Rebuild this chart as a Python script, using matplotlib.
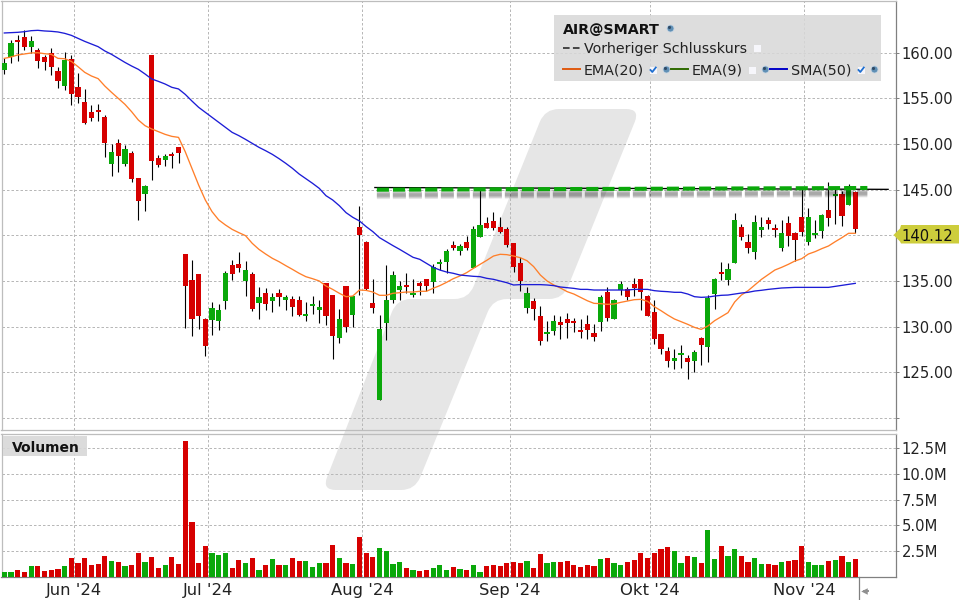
import matplotlib
matplotlib.use("Agg")
import matplotlib.pyplot as plt
from matplotlib.path import Path
from matplotlib.patches import PathPatch, Polygon, Rectangle

# candles
direction = list(
    "ggrrgrrrrg" "rrrrrrgrgr" "rgrrgrrrrr" "rgggrrgrgr" "grgrrgggrr"
    "grgrrrgggg" "rgrrgggrgr" "ggrrrrrrgr" "rggrrrrrrg" "rggrrrrrrr"
    "ggrgrggrgg" "rrggrrgrrr" "gggrgrgr"
)
body_top = [
    158.86, 161.05, 161.38, 161.71, 161.27, 160.29, 159.52, 159.96, 157.99, 159.19,
    159.30, 156.23, 154.59, 153.50, 153.72, 152.95, 149.12, 150.10, 149.45, 149.01,
    146.27, 145.39, 159.74, 148.46, 148.68, 148.90, 149.67, 137.95, 135.11, 135.76,
    130.84, 132.04, 131.82, 135.87, 136.75, 136.86, 136.20, 135.76, 133.24, 133.68,
    133.24, 133.68, 133.24, 133.03, 132.92, 131.38, 132.48, 132.15, 134.78, 133.46,
    130.84, 134.45, 133.35, 140.91, 139.27, 132.59, 129.74, 132.92, 135.65, 134.45,
    134.56, 133.68, 134.78, 135.22, 136.53, 137.08, 138.28, 138.94, 138.83, 139.27,
    140.69, 141.13, 141.35, 141.57, 140.91, 140.69, 139.16, 136.97, 133.68, 132.81,
    131.16, 129.41, 130.62, 130.51, 130.84, 130.62, 129.63, 130.29, 129.30, 133.24,
    133.79, 132.92, 134.67, 134.12, 134.67, 135.22, 133.35, 131.60, 129.19, 127.33,
    126.57, 127.11, 126.57, 127.22, 128.76, 133.13, 135.22, 135.98, 136.31, 141.68,
    140.91, 139.27, 141.46, 140.91, 141.68, 140.80, 140.25, 141.35, 140.25, 142.00,
    142.00, 140.25, 142.22, 142.77, 144.52, 144.52, 145.40, 144.74,
]
body_bottom = [
    158.13, 159.56, 161.16, 160.61, 160.61, 159.08, 158.97, 158.43, 156.89, 156.34,
    155.47, 155.14, 152.29, 152.84, 153.50, 150.10, 147.80, 148.68, 147.80, 146.16,
    143.75, 144.52, 148.13, 147.69, 148.24, 148.68, 149.01, 134.45, 130.84, 131.16,
    127.88, 130.73, 130.62, 132.81, 135.76, 136.42, 135.00, 131.93, 132.59, 132.48,
    132.81, 133.24, 132.92, 132.15, 131.27, 131.16, 132.26, 131.82, 131.16, 128.97,
    128.76, 129.96, 131.27, 140.03, 134.12, 132.04, 121.97, 130.40, 132.92, 134.01,
    134.34, 133.46, 134.45, 134.45, 134.89, 136.86, 137.08, 138.61, 138.28, 138.61,
    136.42, 139.81, 140.80, 140.80, 140.36, 138.94, 136.53, 135.00, 132.04, 131.93,
    128.43, 129.19, 129.52, 130.18, 130.40, 130.40, 129.41, 129.63, 128.87, 130.51,
    130.95, 130.84, 134.01, 133.25, 134.23, 133.79, 131.16, 128.65, 127.55, 126.24,
    126.24, 126.89, 126.13, 126.24, 127.99, 127.77, 133.57, 135.76, 135.11, 136.97,
    139.81, 138.61, 138.17, 140.58, 141.24, 140.58, 138.61, 139.92, 139.49, 140.36,
    139.27, 140.03, 140.47, 141.90, 144.30, 142.11, 143.32, 140.69,
]
wick_high = [
    159.37, 161.38, 161.93, 162.47, 161.82, 160.50, 159.74, 160.50, 158.43, 160.07,
    159.74, 157.77, 156.02, 154.26, 154.37, 153.17, 150.00, 150.54, 149.88, 149.23,
    146.27, 145.50, 159.74, 148.79, 148.90, 149.12, 149.67, 137.95, 137.30, 135.76,
    130.95, 132.70, 132.48, 136.09, 137.30, 138.17, 137.19, 135.98, 134.34, 134.23,
    133.68, 134.12, 133.46, 133.35, 133.35, 132.70, 133.35, 132.92, 134.78, 133.46,
    131.93, 134.45, 133.35, 143.21, 139.38, 135.22, 131.27, 136.75, 136.09, 134.99,
    135.87, 135.22, 134.99, 135.22, 136.86, 137.41, 138.50, 139.38, 139.05, 139.92,
    141.02, 144.96, 142.00, 142.55, 142.00, 140.91, 139.16, 137.62, 134.34, 133.13,
    132.26, 130.62, 131.27, 131.16, 131.49, 130.95, 130.84, 131.27, 130.29, 133.46,
    134.34, 133.03, 135.00, 134.34, 135.32, 135.22, 133.46, 132.92, 129.19, 127.77,
    127.55, 127.99, 126.89, 127.44, 128.87, 133.46, 135.32, 137.08, 136.97, 142.44,
    141.24, 140.14, 142.22, 142.00, 142.00, 141.24, 141.68, 142.11, 140.36, 145.18,
    142.99, 141.68, 142.33, 145.84, 145.18, 144.85, 145.62, 144.85,
]
wick_low = [
    157.66, 158.86, 159.08, 160.29, 159.96, 158.30, 158.10, 157.55, 156.12, 155.90,
    154.26, 154.48, 152.18, 152.51, 152.51, 148.57, 146.49, 146.93, 147.58, 145.83,
    141.67, 142.66, 146.05, 147.47, 147.58, 147.37, 147.91, 129.85, 128.97, 129.74,
    126.78, 129.08, 129.63, 131.93, 135.11, 135.98, 133.35, 131.71, 130.84, 131.82,
    131.60, 132.26, 131.82, 131.16, 131.16, 130.62, 131.38, 130.40, 130.18, 126.46,
    128.21, 129.41, 129.96, 133.46, 134.01, 131.49, 121.97, 128.54, 132.59, 132.92,
    133.68, 133.24, 133.46, 133.90, 133.68, 136.20, 135.87, 138.39, 137.84, 138.39,
    136.42, 139.81, 140.80, 140.58, 140.25, 138.72, 135.98, 133.90, 131.49, 130.73,
    128.00, 128.43, 129.08, 128.65, 128.76, 129.41, 128.76, 128.65, 128.43, 129.52,
    130.62, 130.84, 133.46, 132.92, 133.35, 131.82, 131.16, 128.10, 127.00, 125.58,
    125.36, 125.47, 124.27, 125.03, 125.80, 126.13, 131.93, 135.11, 134.56, 136.97,
    139.49, 138.06, 137.40, 139.81, 140.69, 139.81, 138.28, 138.83, 137.19, 139.92,
    138.94, 139.70, 139.70, 141.02, 141.24, 141.02, 143.32, 140.25,
]
ema20 = [
    159.37, 159.52, 159.74, 159.85, 159.96, 159.99, 159.88, 159.81, 159.37, 159.33,
    159.04, 158.46, 157.84, 157.44, 157.15, 156.34, 155.65, 155.00, 154.34, 153.53,
    152.62, 152.00, 151.64, 151.34, 151.05, 150.83, 150.72, 149.15, 147.33, 145.50,
    143.86, 142.59, 141.68, 141.13, 140.65, 140.29, 139.96, 139.12, 138.46, 137.95,
    137.48, 137.11, 136.68, 136.27, 135.84, 135.47, 135.25, 135.00, 134.45, 134.08,
    133.65, 133.28, 133.35, 134.01, 133.97, 133.79, 133.43, 133.43, 133.65, 133.72,
    133.79, 133.79, 133.87, 133.87, 134.20, 134.49, 134.85, 135.25, 135.55, 135.91,
    136.38, 136.82, 137.26, 137.73, 137.92, 137.88, 137.73, 137.55, 137.22, 136.57,
    135.65, 135.00, 134.56, 134.23, 133.83, 133.57, 133.21, 132.84, 132.55, 132.52,
    132.44, 132.48, 132.66, 132.81, 132.95, 132.99, 132.77, 132.19, 131.75, 131.27,
    130.84, 130.54, 130.25, 129.92, 129.70, 130.07, 130.65, 131.09, 131.53, 132.70,
    133.46, 133.94, 134.56, 135.18, 135.69, 136.20, 136.49, 136.82, 137.19, 137.44,
    137.95, 138.21, 138.54, 138.83, 139.30, 139.74, 140.22, 140.22,
]
sma50 = [
    162.15, 162.18, 162.22, 162.29, 162.40, 162.44, 162.37, 162.33, 162.26, 162.11,
    161.89, 161.56, 161.23, 160.94, 160.65, 160.18, 159.81, 159.37, 158.93, 158.53,
    158.17, 157.66, 157.11, 156.85, 156.56, 156.20, 156.02, 155.43, 154.70, 154.01,
    153.46, 152.91, 152.37, 151.82, 151.27, 150.91, 150.50, 150.07, 149.63, 149.26,
    148.86, 148.39, 147.88, 147.33, 146.71, 146.20, 145.69, 145.14, 144.34, 143.87,
    143.24, 142.48, 141.97, 141.57, 140.95, 140.40, 139.74, 139.30, 138.87, 138.46,
    138.03, 137.59, 137.37, 136.93, 136.49, 136.20, 135.98, 135.84, 135.65, 135.58,
    135.51, 135.47, 135.29, 135.18, 135.00, 134.81, 134.56, 134.60, 134.60, 134.60,
    134.60, 134.56, 134.49, 134.34, 134.27, 134.19, 134.08, 134.08, 134.01, 134.01,
    134.01, 134.01, 134.01, 134.01, 134.08, 134.08, 134.08, 133.94, 133.87, 133.83,
    133.76, 133.76, 133.57, 133.28, 133.21, 133.24, 133.35, 133.43, 133.46, 133.57,
    133.68, 133.76, 133.90, 133.98, 134.08, 134.16, 134.23, 134.27, 134.30, 134.30,
    134.30, 134.30, 134.30, 134.30, 134.41, 134.52, 134.63, 134.74,
]
volume = [
    0.49, 0.49, 0.68, 0.49, 1.07, 1.07, 0.58, 0.68, 0.78, 1.07,
    1.84, 1.36, 1.84, 1.17, 1.26, 2.04, 1.55, 1.46, 1.07, 1.17,
    2.33, 1.46, 1.94, 0.87, 1.17, 1.94, 1.26, 13.20, 5.34, 1.36,
    3.01, 2.33, 2.14, 2.33, 0.87, 1.65, 1.36, 1.84, 0.68, 1.17,
    1.75, 1.17, 1.17, 1.84, 1.55, 1.55, 0.97, 1.36, 1.36, 3.11,
    1.84, 1.36, 1.26, 3.88, 2.33, 1.94, 2.82, 2.52, 1.26, 1.46,
    0.87, 0.68, 0.58, 0.68, 0.87, 1.17, 0.68, 0.97, 0.78, 0.68,
    1.17, 0.49, 1.07, 1.17, 1.07, 1.36, 1.46, 1.36, 1.55, 0.87,
    2.23, 1.36, 1.46, 1.46, 1.55, 1.17, 0.97, 1.17, 1.07, 1.75,
    1.84, 1.36, 1.17, 1.46, 1.65, 2.33, 1.84, 2.33, 2.72, 2.91,
    2.52, 1.36, 2.04, 1.94, 1.36, 4.56, 1.75, 3.01, 2.04, 2.72,
    2.04, 1.46, 1.84, 1.26, 1.26, 1.17, 1.46, 1.55, 1.65, 3.01,
    1.46, 1.17, 1.17, 1.55, 1.65, 2.04, 1.46, 1.75,
]

# the previous close: black line and the thick green dashes on it
prev_close_x = [55.3, 131.9]
prev_close_y = [145.23, 145.03]
green_dash_x = [55.6, 128.8]
green_dash_y = [144.99, 145.18]

month_pos = [10.45, 30.45, 53.4, 75.4, 96.4, 119.4]
month_labels = ["Jun '24", "Jul '24", "Aug '24", "Sep '24", "Okt '24", "Nov '24"]
price_ticks = [120, 125, 130, 135, 140, 145, 150, 155, 160]
price_labels = ["", "125.00", "130.00", "135.00", "140.00", "145.00", "150.00", "155.00", "160.00"]
vol_ticks = [2.5, 5.0, 7.5, 10.0, 12.5]
vol_labels = ["2.5M", "5.0M", "7.5M", "10.0M", "12.5M"]
last_price = "140.12"

GREEN = "#0aa80a"
RED = "#d60000"
GRID = "#b8b8b8"
FS = 10.3
FS_AXIS = 10.6

plt.rcParams["font.family"] = "DejaVu Sans"


def pix_axes(fig, left, top, right, bottom):
    return fig.add_axes([left / 960, 1 - bottom / 600, (right - left) / 960, (bottom - top) / 600])


def rounded_path(points, radius):
    # quadratic corners on a plain polygon
    verts, codes = [], []
    n = len(points)
    for k in range(n):
        px, py = points[k - 1]
        cx, cy = points[k]
        nx, ny = points[(k + 1) % n]
        d1 = ((cx - px) ** 2 + (cy - py) ** 2) ** 0.5
        d2 = ((nx - cx) ** 2 + (ny - cy) ** 2) ** 0.5
        a = (cx + (px - cx) * radius / d1, cy + (py - cy) * radius / d1)
        b = (cx + (nx - cx) * radius / d2, cy + (ny - cy) * radius / d2)
        verts.append(a)
        codes.append(Path.MOVETO if k == 0 else Path.LINETO)
        verts += [(cx, cy), b]
        codes += [Path.CURVE3, Path.CURVE3]
    verts.append(verts[0])
    codes.append(Path.CLOSEPOLY)
    return Path(verts, codes)


def style_panel(ax):
    ax.set_facecolor("none")
    ax.set_xlim(-0.42, 133.0)
    ax.set_xticks(month_pos)
    ax.grid(True, color=GRID, linestyle=(0, (2.5, 2)), linewidth=0.72)
    ax.set_axisbelow(True)
    ax.yaxis.tick_right()
    ax.tick_params(axis="y", length=2, width=0.72, color="#808080", pad=2.5, labelsize=FS_AXIS, labelcolor="#222222")
    ax.tick_params(axis="x", length=0, labelsize=11.8, labelcolor="#222222")
    for name in ("top", "left", "bottom"):
        ax.spines[name].set_color("#bdbdbd")
    ax.spines["right"].set_color("#808080")
    for s in ax.spines.values():
        s.set_linewidth(0.9)


fig = plt.figure(figsize=(9.6, 6.0), dpi=100, facecolor="white")

# watermark sits behind both panels
bg = fig.add_axes([0, 0, 1, 1], zorder=0)
bg.set_xlim(0, 960)
bg.set_ylim(600, 0)
bg.axis("off")
bg.add_patch(PathPatch(rounded_path(
    [(545, 109), (640, 109), (563, 299), (493, 299), (415, 490), (322, 490), (397, 299), (468.5, 299)], 14),
    facecolor="#e6e6e6", edgecolor="none"))

ax = pix_axes(fig, 1.5, 1, 895.5, 429.5)
ax.set_zorder(1)
vol = pix_axes(fig, 1.5, 434, 895.5, 577)
vol.set_zorder(1)
style_panel(ax)
style_panel(vol)

idx = list(range(len(direction)))
colors = [GREEN if d == "g" else RED for d in direction]

ax.vlines(idx, wick_low, wick_high, color="black", linewidth=0.8, zorder=3)
heights = [t - b for t, b in zip(body_top, body_bottom)]
ax.bar(idx, heights, bottom=body_bottom, width=0.78, color=colors, linewidth=0, zorder=4)
ax.plot(idx, ema20, color="#ff7f2a", linewidth=0.95, zorder=5)
ax.plot(idx, sma50, color="#1c1cd6", linewidth=0.95, zorder=5)

# soft shadow under the dashes, stacked from wide to narrow
for lw in [6.0, 5.0, 4.0, 3.0, 2.0]:
    lw_px = lw / 0.72
    ax.plot(green_dash_x, [y - 0.58 for y in green_dash_y], color="black", alpha=0.08, linewidth=lw,
            linestyle=(0, (13 / lw_px, 3 / lw_px)), dash_capstyle="butt", zorder=5)
ax.plot(prev_close_x, prev_close_y, color="black", linewidth=0.95, zorder=6)
ax.plot(green_dash_x, green_dash_y, color=GREEN, linewidth=2.9, linestyle=(0, (3, 1)),
        dash_capstyle="butt", zorder=7)

ax.set_ylim(118.74, 165.65)
ax.set_yticks(price_ticks)
ax.set_yticklabels(price_labels)
ax.set_xticklabels([])

vol.bar(idx, volume, width=0.78, color=colors, linewidth=0, zorder=3)
vol.set_ylim(0, 13.88)
vol.set_yticks(vol_ticks)
vol.set_yticklabels(vol_labels)
vol.set_xticklabels(month_labels)
vol.spines["bottom"].set_color("#808080")
vol.tick_params(axis="x", pad=4.5)

# legend, labels and small icons in pixel coordinates
top = fig.add_axes([0, 0, 1, 1], zorder=2)
top.set_xlim(0, 960)
top.set_ylim(600, 0)
top.axis("off")
top.patch.set_alpha(0)


def globe(x, y):
    top.scatter([x], [y], s=26, color="#5f8fb5", edgecolor="#c9d6e2", linewidth=0.6, zorder=4)
    top.scatter([x - 0.7], [y - 0.7], s=5, color="#2f4a66", linewidth=0, zorder=5)


def box(x, y, checked):
    top.add_patch(Rectangle((x - 3.5, y - 3.5), 7, 7, facecolor="#f6f6fb", edgecolor="none", zorder=4))
    if checked:
        top.plot([x - 2.5, x - 0.7, x + 2.8], [y, y + 2, y - 2.5], color="#1f6fd0", linewidth=1.3, zorder=5)


def text_px(x, y, s, **kw):
    kw.setdefault("fontsize", FS)
    kw.setdefault("color", "#222222")
    top.text(x, y, s, va="center_baseline", ha=kw.pop("ha", "left"), zorder=6, **kw)


top.add_patch(Rectangle((554, 15), 327, 66, facecolor="#d8d8d8", alpha=0.85, edgecolor="none", zorder=3))
text_px(563, 28, "AIR@SMART", fontweight="bold", color="#111111")
globe(670, 28)
top.plot([563, 580], [47.5, 47.5], color="#444444", linewidth=1.4, linestyle=(0, (3.4, 1.7)), zorder=5)
text_px(584, 48, "Vorheriger Schlusskurs")
box(757, 48, False)
top.plot([563, 580], [69, 69], color="#e05a10", linewidth=1.4, zorder=5)
text_px(584, 69, "EMA(20)")
box(653, 70, True)
globe(666, 69)
top.plot([671, 688], [69, 69], color="#2f6a00", linewidth=1.4, zorder=5)
text_px(692, 69, "EMA(9)")
box(752, 70, False)
globe(765, 69)
top.plot([770, 787], [69, 69], color="#0000c8", linewidth=1.4, zorder=5)
text_px(791, 69, "SMA(50)")
box(861, 70, True)
globe(874, 69)

top.add_patch(Rectangle((3, 436), 84, 20, facecolor="#d8d8d8", alpha=0.9, edgecolor="none", zorder=3))
text_px(12, 446.5, "Volumen", fontsize=10.0, fontweight="bold", color="#111111")

# last price tag
top.add_patch(Polygon([(893.5, 235), (900, 228.5), (901, 225), (959, 225), (959, 243.5), (901, 243.5), (900, 241.5)],
                      closed=True, facecolor="#cdcd3c", edgecolor="none", zorder=3))
text_px(901.5, 235, last_price, fontsize=FS_AXIS, color="#111111")

# scroll marker under the chart
top.plot([858.8, 858.8], [577, 599], color="#808080", linewidth=0.9, zorder=3)
top.scatter([864], [590.5], marker="<", s=22, color="#909090", linewidth=0, zorder=3)
top.plot([864, 868], [590.5, 590.5], color="#909090", linewidth=1.4, zorder=3)

fig.savefig("out.png", dpi=100)
